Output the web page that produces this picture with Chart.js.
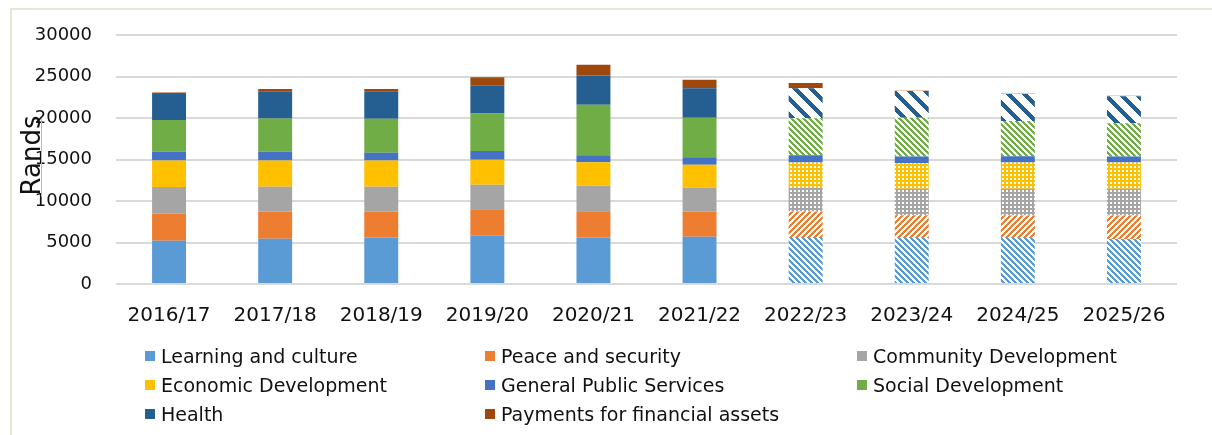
<!DOCTYPE html>
<html lang="en">
<head>
<meta charset="UTF-8">
<title>Rands</title>
<script src="https://cdn.jsdelivr.net/npm/chart.js"></script>
<style>
    * {
        margin: 0;
        padding: 0;
    }
    html, body {
        overflow: hidden;
    }
    body {
        background: #fff;
        width: 1212px;
        height: 435px;
        position: relative;
        font-family: "DejaVu Sans", sans-serif;
    }
    .linhaEsq {
        position: absolute;
        left: 10px;
        top: 8px;
        width: 2px;
        height: 427px;
        background: #e2ead5;
    }
    .linhaTopo {
        position: absolute;
        left: 10px;
        top: 8px;
        width: 1202px;
        height: 2px;
        background: #e2ead5;
    }
    #chartBox {
        position: absolute;
        left: 0;
        top: 0;
        width: 1212px;
        height: 360px;
    }
    #legenda {
        position: absolute;
        left: 145px;
        top: 341px;
        display: grid;
        grid-template-columns: 340px 372px auto;
        grid-auto-rows: 29px;
        font-size: 19px;
        color: #111;
    }
    .item {
        display: flex;
        align-items: center;
        white-space: nowrap;
    }
    .caixa {
        width: 10px;
        height: 10px;
        margin-right: 6px;
    }
</style>
</head>
<body>
<div class="linhaEsq"></div>
<div class="linhaTopo"></div>
<div id="chartBox"><canvas id="grafico"></canvas></div>
<div id="legenda"></div>

<script>
    // categories
    const anos = ['2016/17', '2017/18', '2018/19', '2019/20', '2020/21', '2021/22', '2022/23', '2023/24', '2024/25', '2025/26'];

    // series values (Rands)
    const learning = [5200, 5440, 5610, 5810, 5610, 5680, 5650, 5530, 5530, 5410];
    const peace = [3280, 3280, 3110, 3200, 3160, 3040, 3070, 2750, 2710, 2830];
    const community = [3200, 3000, 3000, 2950, 3070, 2880, 2920, 3200, 3240, 3240];
    const economic = [3200, 3160, 3160, 3000, 2830, 2760, 3000, 3070, 3160, 3160];
    const publicServices = [1060, 1060, 930, 1050, 850, 920, 880, 810, 760, 720];
    const social = [3830, 4000, 4090, 4540, 6080, 4740, 4460, 4660, 4250, 4010];
    const health = [3130, 3230, 3320, 3350, 3520, 3570, 3610, 3240, 3250, 3250];
    const payments = [180, 330, 280, 1020, 1300, 1010, 640, 120, 120, 120];

    // y axis ticks
    const yTicks = [0, 5000, 10000, 15000, 20000, 25000, 30000];

    // first projected year (patterned bars from here on)
    const firstProjected = 6;

    const ctx = document.getElementById('grafico').getContext('2d');

    // small pixel patterns like the Excel fills
    function makePattern(size, bg, fg, isOn) {
        const c = document.createElement('canvas');
        c.width = size;
        c.height = size;
        const g = c.getContext('2d');
        g.fillStyle = bg;
        g.fillRect(0, 0, size, size);
        g.fillStyle = fg;
        for (let y = 0; y < size; y++) {
            for (let x = 0; x < size; x++) {
                if (isOn(x, y)) g.fillRect(x, y, 1, 1);
            }
        }
        return ctx.createPattern(c, 'repeat');
    }
    const down = (n, t) => (x, y) => (((x - y) % n) + n) % n < t;
    const up = (n, t) => (x, y) => (x + y) % n < t;
    const dots = (x, y) => x % 4 >= 2 && y % 4 >= 2;

    const series = [
        { label: 'Learning and culture', data: learning, color: '#5b9bd5', future: makePattern(6, '#fff', '#5b9bd5', down(6, 3)) },
        { label: 'Peace and security', data: peace, color: '#ed7d31', future: makePattern(6, '#fff', '#ed7d31', up(6, 3)) },
        { label: 'Community Development', data: community, color: '#a5a5a5', future: makePattern(4, '#a5a5a5', '#fff', dots) },
        { label: 'Economic Development', data: economic, color: '#ffc000', future: makePattern(4, '#ffc000', '#fff', dots) },
        { label: 'General Public Services', data: publicServices, color: '#4472c4', future: '#4472c4' },
        { label: 'Social Development', data: social, color: '#70ad47', future: makePattern(6, '#fff', '#70ad47', down(6, 3)) },
        { label: 'Health', data: health, color: '#255e91', future: makePattern(16, '#fff', '#255e91', down(16, 6)) },
        { label: 'Payments for financial assets', data: payments, color: '#9e480e', future: '#9e480e' }
    ];

    const datasets = series.map(s => ({
        label: s.label,
        data: s.data,
        backgroundColor: s.data.map((v, i) => {
            if (i < firstProjected) return s.color;
            // payments after 2022/23 show only as a pale line
            if (s.color === '#9e480e' && i > firstProjected) return '#e9c9b5';
            return s.future;
        }),
        borderWidth: 0,
        barPercentage: 0.32,
        categoryPercentage: 1
    }));

    // "Rands" title drawn over the tick labels, as in the original
    const tituloEixo = {
        id: 'tituloEixo',
        afterDraw(chart) {
            const c = chart.ctx;
            const area = chart.chartArea;
            c.save();
            c.strokeStyle = '#f4a3a3';
            c.lineWidth = 1;
            c.beginPath();
            c.moveTo(area.left - 74.5, area.top + 83);
            c.lineTo(area.left - 74.5, area.top + 162);
            c.stroke();
            c.translate(area.left - 83, (area.top + area.bottom) / 2 - 4);
            c.rotate(-Math.PI / 2);
            c.font = '26px "DejaVu Sans"';
            c.fillStyle = '#111';
            c.textAlign = 'center';
            c.textBaseline = 'middle';
            c.fillText('Rands', 0, 0);
            c.restore();
        }
    };

    const config = {
        type: 'bar',
        data: { labels: anos, datasets: datasets },
        options: {
            responsive: true,
            maintainAspectRatio: false,
            animation: false,
            layout: {
                padding: { top: 35, right: 35, bottom: 20, left: 0 }
            },
            plugins: {
                legend: { display: false },
                tooltip: { enabled: false }
            },
            scales: {
                x: {
                    stacked: true,
                    grid: { display: false },
                    border: { display: false },
                    ticks: {
                        color: '#111',
                        font: { family: 'DejaVu Sans', size: 20 },
                        padding: 12,
                        maxRotation: 0,
                        autoSkip: false
                    }
                },
                y: {
                    stacked: true,
                    min: yTicks[0],
                    max: yTicks[yTicks.length - 1],
                    afterBuildTicks: (scale) => {
                        scale.ticks = yTicks.map(v => ({ value: v }));
                    },
                    afterFit: (scale) => {
                        scale.width = 116;
                    },
                    grid: {
                        color: '#d9d9d9',
                        lineWidth: 2,
                        drawTicks: false
                    },
                    border: { display: false },
                    ticks: {
                        color: '#111',
                        font: { family: 'DejaVu Sans', size: 18 },
                        padding: 24,
                        callback: (value) => String(value)
                    }
                }
            }
        },
        plugins: [tituloEixo]
    };

    const grafico = new Chart(ctx, config);

    // legend in three columns
    const legenda = document.getElementById('legenda');
    series.forEach(s => {
        const item = document.createElement('div');
        item.className = 'item';
        item.innerHTML = `<span class="caixa" style="background:${s.color}"></span><span>${s.label}</span>`;
        legenda.appendChild(item);
    });
</script>
</body>
</html>
